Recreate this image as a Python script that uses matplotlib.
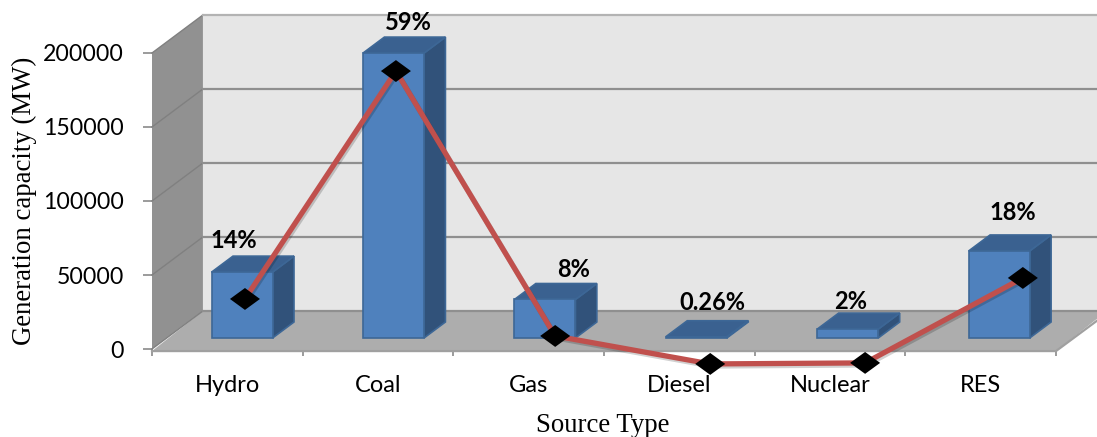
import matplotlib
matplotlib.use("Agg")
import matplotlib.pyplot as plt
import matplotlib.patheffects as pe
from matplotlib.patches import Polygon

# Installed generation capacity by source
sources = ["Hydro", "Coal", "Gas", "Diesel", "Nuclear", "RES"]
capacity = [44500, 192500, 26000, 850, 6000, 58800]
trend = [44600, 198600, 19600, 700, 1400, 58800]
shares = ["14%", "59%", "8%", "0.26%", "2%", "18%"]
y_ticks = [0, 50000, 100000, 150000, 200000]

# Fake 3D layout, depth 1 is the back wall
DX = 0.338
DY = 25700
BAR_W = 0.405
BAR_STEP = 1.005
BAR_FRONT = 0.29
BAR_BACK = 0.71
LINE_DEPTH = -0.42
line_shift = [0.117, 0.119, 0.176, 0.205, 0.233, 0.280]
label_px = [(6, 32), (30, 31), (45, 30), (33, 34), (21, 28), (32, 38)]
DIAMOND = [(-1, 0), (0, 0.73), (1, 0), (0, -0.73), (-1, 0)]


def pt(x, y, d=0.0):
    return (x + d * DX, y + d * DY)


def box(ax, x0, x1, h, z):
    # front, top and side faces of one bar
    d0, d1 = BAR_FRONT, BAR_BACK
    top = [pt(x0, h, d0), pt(x1, h, d0), pt(x1, h, d1), pt(x0, h, d1)]
    side = [pt(x1, 0, d0), pt(x1, h, d0), pt(x1, h, d1), pt(x1, 0, d1)]
    front = [pt(x0, 0, d0), pt(x1, 0, d0), pt(x1, h, d0), pt(x0, h, d0)]
    for verts, col in ((side, "#31527a"), (top, "#3a6190"), (front, "#4f81bd")):
        ax.add_patch(Polygon(verts, closed=True, facecolor=col, edgecolor="#3d6796",
                             lw=1.2, zorder=z, clip_on=False))


fig = plt.figure(figsize=(10.97, 4.37), dpi=100)
ax = fig.add_axes([152 / 1097, 1 - 349 / 437, 904 / 1097, 296 / 437])
ax.set_xlim(0, 6)
ax.set_ylim(0, 200000)
ax.patch.set_visible(False)
ax.set_axisbelow(True)
for s in ax.spines.values():
    s.set_visible(False)

# walls and floor
x_end = 6.3
ax.add_patch(Polygon([pt(0, 0, 1), pt(x_end, 0, 1), pt(x_end, 200000, 1), pt(0, 200000, 1)],
                     facecolor="#e6e6e6", edgecolor="none", zorder=1, clip_on=False))
ax.add_patch(Polygon([pt(0, 0, 0), pt(0, 0, 1), pt(0, 200000, 1), pt(0, 200000, 0)],
                     facecolor="#919191", edgecolor="none", zorder=1, clip_on=False))
ax.add_patch(Polygon([pt(0, -1400, 0), pt(6, -1400, 0), pt(6, 0, 1), pt(0, 0, 1)],
                     facecolor="#adadad", edgecolor="none", zorder=1, clip_on=False))

for v in y_ticks:
    col = "#b3b3b3" if v == 200000 else "#8f8f8f"
    ax.plot(*zip(pt(0, v, 0), pt(0, v, 1)), color="#808080", lw=1.0, zorder=1.2, clip_on=False)
    ax.plot(*zip(pt(0, v, 1), pt(x_end, v, 1)), color=col, lw=1.6, zorder=1.2, clip_on=False)
ax.plot(*zip(pt(0, -1400, 0), pt(6, -1400, 0), pt(6.3, -1400 + 0.88 * DY, 0)),
        color="#a0a0a0", lw=1.6, zorder=1.2, clip_on=False)

# bars
for i, h in enumerate(capacity):
    x0 = i * BAR_STEP + 0.5 - BAR_W / 2
    box(ax, x0, x0 + BAR_W, h, 2 + i * 0.01)

# line on the plane in front of the floor
lx = [i + 0.5 + s for i, s in enumerate(line_shift)]
ly = [v + LINE_DEPTH * DY for v in trend]
shadow = [pe.SimpleLineShadow(offset=(1, -1.5), alpha=0.18), pe.Normal()]
ax.plot(lx, ly, color="#c0504d", lw=3.8, zorder=3, clip_on=False, path_effects=shadow)
ax.plot(lx, ly, ls="none", marker=DIAMOND, markersize=21.6, color="black", mew=0,
        zorder=4, clip_on=False, path_effects=shadow)

# share labels above each bar
for i, (h, txt) in enumerate(zip(capacity, shares)):
    ox, oy = label_px[i]
    ax.annotate(txt, (i + 0.5, h + BAR_FRONT * DY), xytext=(ox * 0.72, oy * 0.72),
                textcoords="offset points", ha="center", va="center",
                fontfamily="Lato", fontweight="bold", fontsize=17, color="black",
                zorder=5, annotation_clip=False)

# axes
ax.set_yticks(y_ticks)
ax.set_xticks(range(7))
ax.set_xticklabels([])
ax.set_xticks([i + 0.5 for i in range(6)], sources, minor=True)
ax.tick_params(axis="x", which="major", length=5, width=1.2, color="#8a8a8a", direction="out")
ax.tick_params(axis="x", which="minor", length=0, pad=19, labelsize=17)
ax.tick_params(axis="y", length=6.5, width=1.2, color="#8a8a8a", pad=13.5, labelsize=16.7)
for t in ax.get_xticklabels(minor=True) + ax.get_yticklabels():
    t.set_fontfamily("Lato")

ax.set_xlabel("Source Type", fontfamily="Liberation Serif", fontsize=19.3)
ax.xaxis.set_label_coords((603 - 152) / 904, -(426 - 349) / 296, transform=ax.transAxes)
ax.xaxis.label.set_va("center")
ax.set_ylabel("Generation capacity (MW)", fontfamily="Liberation Serif", fontsize=19.3)
ax.yaxis.set_label_coords((24 - 152) / 904, (349 - 201) / 296, transform=ax.transAxes)
ax.yaxis.label.set_va("center")

fig.savefig("out.png", dpi=100)
